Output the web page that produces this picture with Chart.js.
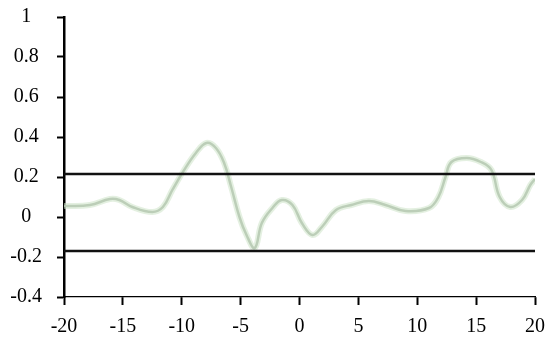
<!DOCTYPE html>
<html>
<head>
<meta charset="utf-8">
<script src="https://cdn.jsdelivr.net/npm/chart.js@4"></script>
<style>
  html, body { margin: 0; padding: 0; background: #fff; }
  #wrap { width: 555px; height: 341px; }
</style>
</head>
<body>
<div id="wrap"><canvas id="myChart"></canvas></div>
<script>
// green curve
let curveX = [-20, -17.8, -16.1, -15.3, -14.2, -12.5, -11.6, -10.8, -9.9, -8.8, -7.9, -7.1, -6.4, -5.8, -5.1, -4.5, -3.8, -3.2, -2.3, -1.5, -0.6, 0.2, 1.1, 1.9, 3.1, 4.4, 5.9, 7.3, 9.0, 11.0, 11.8, 12.4, 12.9, 14.2, 15.4, 16.3, 17.0, 17.9, 18.9, 19.6, 20];
let curveY = [0.055, 0.06, 0.09, 0.085, 0.05, 0.025, 0.05, 0.135, 0.225, 0.32, 0.37, 0.345, 0.27, 0.15, 0.0, -0.09, -0.155, -0.03, 0.045, 0.085, 0.06, -0.03, -0.09, -0.05, 0.035, 0.06, 0.08, 0.06, 0.03, 0.045, 0.1, 0.2, 0.275, 0.295, 0.275, 0.235, 0.1, 0.05, 0.085, 0.16, 0.19];

// the two black limit lines
let upperLimit = 0.215;
let lowerLimit = -0.17;
let xRange = [-20, 20];
let yRange = [-0.4, 1];

let curvePts = [];
for (let i = 0; i < curveX.length; i++) {
  curvePts.push({x: curveX[i], y: curveY[i]});
}

let serif = '"Liberation Serif", "Times New Roman", serif';

let ctx = document.getElementById('myChart').getContext('2d');
let myChart = new Chart(ctx, {
  type: 'line',
  data: {
    datasets: [{
      data: [{x: xRange[0], y: upperLimit}, {x: xRange[1], y: upperLimit}],
      borderColor: '#111',
      borderWidth: 2.5,
      pointRadius: 0
    }, {
      data: [{x: xRange[0], y: lowerLimit}, {x: xRange[1], y: lowerLimit}],
      borderColor: '#111',
      borderWidth: 2.5,
      pointRadius: 0
    }, {
      data: curvePts,
      borderColor: 'rgba(205,228,200,0.55)',
      borderWidth: 6,
      pointRadius: 0,
      tension: 0.4
    }, {
      data: curvePts,
      borderColor: 'rgba(150,168,148,0.85)',
      borderWidth: 2.5,
      pointRadius: 0,
      tension: 0.4
    }]
  },
  options: {
    responsive: true,
    maintainAspectRatio: false,
    animation: false,
    layout: { padding: { top: 17, right: 18, left: 0, bottom: 0 } },
    plugins: { legend: { display: false }, tooltip: { enabled: false } },
    scales: {
      x: {
        type: 'linear',
        min: xRange[0],
        max: xRange[1],
        afterFit: function(s) { s.height = 44; },
        ticks: { stepSize: 5, color: '#000', padding: 10, maxRotation: 0,
                 font: { family: serif, size: 20 } },
        grid: { drawOnChartArea: false, tickLength: 8, tickColor: '#000', tickWidth: 2 },
        border: { color: '#000', width: 1.2 }
      },
      y: {
        min: yRange[0],
        max: yRange[1],
        afterFit: function(s) {
          s.width = 64;
          // tick padding is only meant to push labels sideways here
          s.paddingTop = 0;
          s.paddingBottom = 0;
        },
        ticks: { stepSize: 0.2, color: '#000', padding: 15, crossAlign: 'center',
                 font: { family: serif, size: 20 },
                 callback: function(v) { return Math.round(v * 10) / 10; } },
        grid: { drawOnChartArea: false, tickLength: 7, tickColor: '#000', tickWidth: 2 },
        border: { color: '#000', width: 2.5 }
      }
    }
  }
});
</script>
</body>
</html>
